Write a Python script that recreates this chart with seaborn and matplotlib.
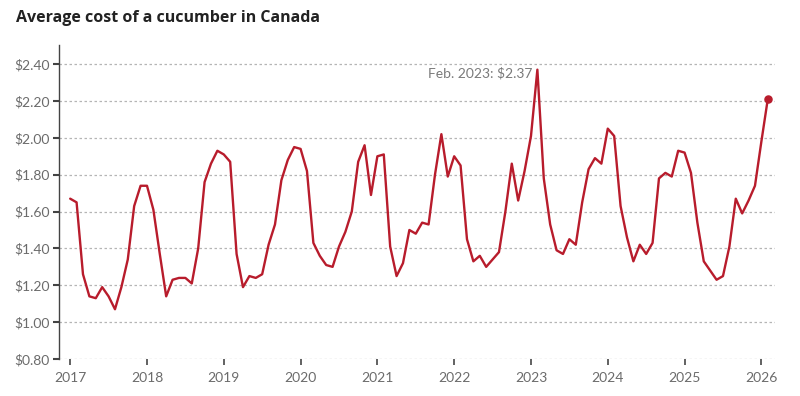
import numpy as np
import pandas as pd
import matplotlib
matplotlib.use("Agg")
import matplotlib.pyplot as plt
import seaborn as sns

# Monthly average price, Jan 2017 .. Feb 2026
start_year = 2017
prices = [
    1.67, 1.65, 1.26, 1.14, 1.13, 1.19, 1.14, 1.07, 1.19, 1.34, 1.63, 1.74,  # 2017
    1.74, 1.61, 1.37, 1.14, 1.23, 1.24, 1.24, 1.21, 1.40, 1.76, 1.86, 1.93,  # 2018
    1.91, 1.87, 1.37, 1.19, 1.25, 1.24, 1.26, 1.42, 1.53, 1.77, 1.88, 1.95,  # 2019
    1.94, 1.82, 1.43, 1.36, 1.31, 1.30, 1.41, 1.49, 1.60, 1.87, 1.96, 1.69,  # 2020
    1.90, 1.91, 1.41, 1.25, 1.32, 1.50, 1.48, 1.54, 1.53, 1.80, 2.02, 1.79,  # 2021
    1.90, 1.85, 1.45, 1.33, 1.36, 1.30, 1.34, 1.38, 1.60, 1.86, 1.66, 1.82,  # 2022
    2.01, 2.37, 1.78, 1.53, 1.39, 1.37, 1.45, 1.42, 1.65, 1.83, 1.89, 1.86,  # 2023
    2.05, 2.01, 1.63, 1.46, 1.33, 1.42, 1.37, 1.43, 1.78, 1.81, 1.79, 1.93,  # 2024
    1.92, 1.81, 1.54, 1.33, 1.28, 1.23, 1.25, 1.41, 1.67, 1.59, 1.66, 1.74,  # 2025
    1.98, 2.21,                                                              # 2026
]
year_ticks = list(range(2017, 2027))
y_ticks = [0.80, 1.00, 1.20, 1.40, 1.60, 1.80, 2.00, 2.20, 2.40]
title = "Average cost of a cucumber in Canada"
annotation = "Feb. 2023: $2.37"

df = pd.DataFrame({
    "t": [start_year + i / 12 for i in range(len(prices))],
    "price": prices,
})

sns.set_theme(style="white")
plt.rcParams["font.family"] = ["Lato", "DejaVu Sans"]

red = "#b81c2c"
grey = "#6b6b6b"

fig = plt.figure(figsize=(8, 3.96), dpi=100)
ax = fig.add_axes([0.074, 0.0934, 0.895, 0.7926])

for v in y_ticks:
    ax.axhline(v, color="#b5b5b5", lw=0.9, ls=(0, (2, 2)), zorder=0)

sns.lineplot(data=df, x="t", y="price", ax=ax, color=red, lw=1.7, zorder=3)
ax.scatter([df["t"].iloc[-1]], [df["price"].iloc[-1]], color=red, s=26, zorder=4)

peak = df.loc[df["price"].idxmax()]
ax.text(peak["t"] - 0.06, peak["price"] - 0.02, annotation, ha="right", va="center",
        fontsize=10, color="#7a7a7a")

ax.set_xlim(2017 - 0.143, 2026 + 0.18)
ax.set_ylim(0.80, 2.503)
ax.set_xticks(year_ticks)
ax.set_xticklabels([str(y) for y in year_ticks])
ax.set_yticks(y_ticks)
ax.set_yticklabels([f"${v:.2f}" for v in y_ticks])
ax.set_xlabel("")
ax.set_ylabel("")

for s in ["top", "right", "bottom"]:
    ax.spines[s].set_visible(False)
ax.spines["left"].set_color("#444444")
ax.spines["left"].set_linewidth(1.0)

ax.tick_params(axis="y", which="both", left=True, length=4, width=1.5, color="#444444",
               labelsize=10, labelcolor=grey, pad=3)
ax.tick_params(axis="x", which="both", bottom=True, length=4, width=1.3, color="#555555",
               labelsize=10, labelcolor=grey, pad=5, direction="out")

fig.text(0.02, 0.955, title, fontsize=11.5, fontweight="bold", color="#222222",
         ha="left", va="center", family=["Open Sans", "DejaVu Sans"])

fig.savefig("out.png", dpi=100, facecolor="white")
